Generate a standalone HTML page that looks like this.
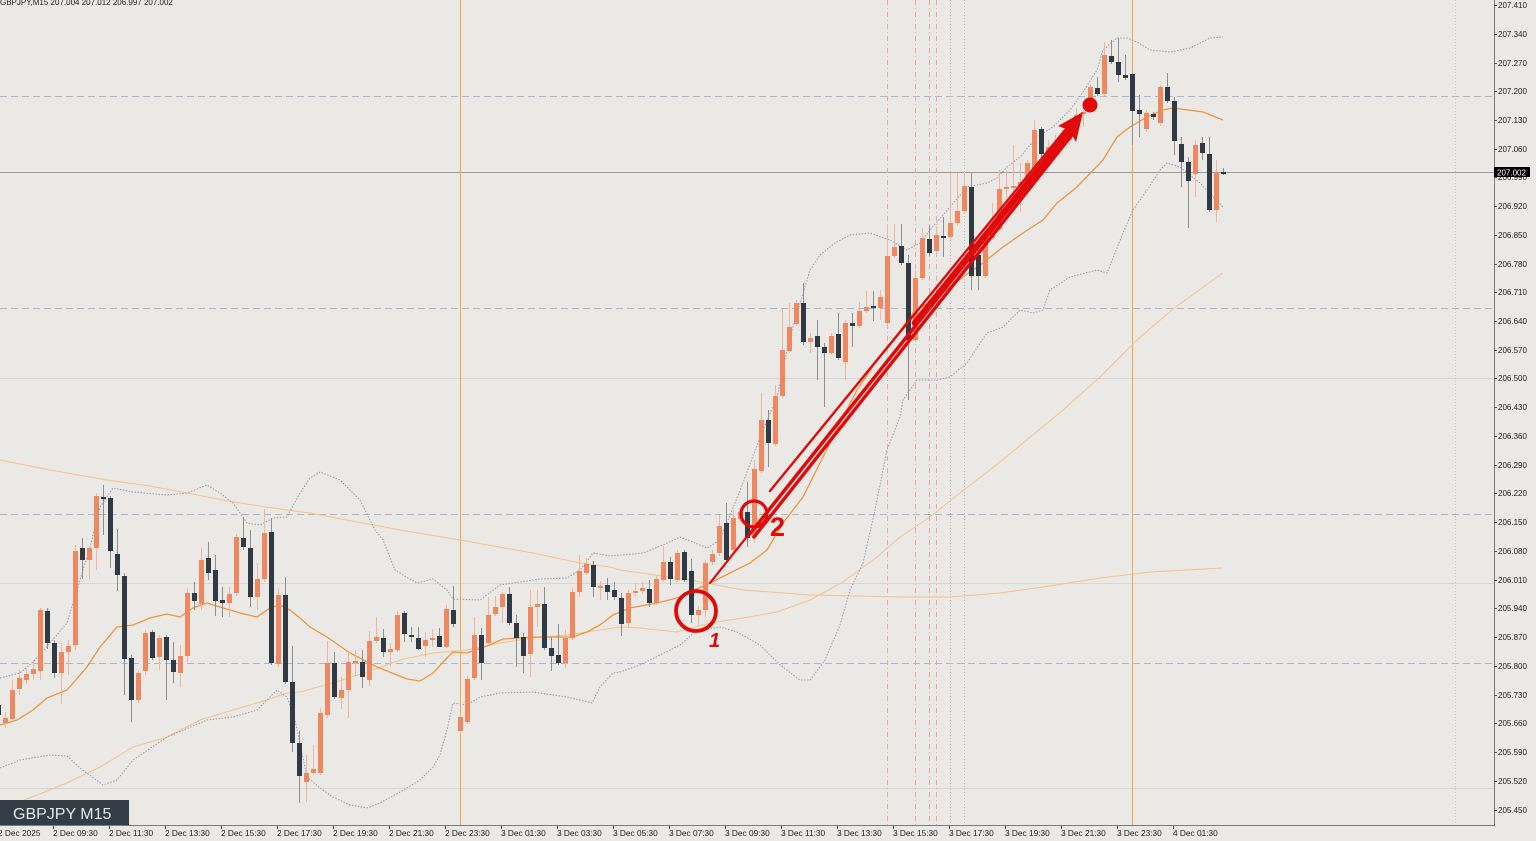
<!DOCTYPE html>
<html><head><meta charset="utf-8"><style>
html,body{margin:0;padding:0;background:#ebe9e5;}
svg{display:block;font-family:"Liberation Sans",sans-serif;}
</style></head><body>
<svg width="1536" height="841" viewBox="0 0 1536 841" xmlns="http://www.w3.org/2000/svg">
<rect x="0" y="0" width="1536" height="841" fill="#ebe9e5"/>
<g stroke-width="1" fill="none">
<path d="M0 378.5H1494M0 583.5H1494M0 788.5H1494" stroke="#d8d6d2"/>
<path d="M0 172.5H1494" stroke="#9c9c9c"/>
<path d="M0 96.5H1494M0 308.5H1494M0 514.5H1494M0 663.5H1494" stroke="#a9b6cb" stroke-dasharray="7,4"/>
<path d="M460.5 0V825M1132.5 0V825" stroke="#f5a64c"/>
<path d="M887.5 0V825M915.5 0V825M929.5 0V825M936.5 0V825" stroke="#eea69e" stroke-dasharray="5,3,1,3"/>
<path d="M950.5 0V825M964.5 0V825" stroke="#bdbdbd" stroke-dasharray="1,2"/>
<path d="M1455.5 0V825" stroke="#c4c4c4" stroke-dasharray="1,2"/>
</g>
<g fill="none">
<polyline stroke="#f6c28a" stroke-width="1" points="0,460 50,470 107,480 150,486 187,493 233,502 287,510 310,513 400,530 460,540 533,553 580,563 610,567 620,570 690,580 743,590 810,595 900,597 950,597 1000,593 1050,586 1100,578 1150,572 1222,568"/>
<polyline stroke="#f6c28a" stroke-width="1" points="0,808 27,799 67,783 100,767 133,747 167,737 200,720 233,710 267,700 287,693 300,692 333,683 367,672 400,660 433,653 467,650 500,643 533,638 567,635 600,630 620,627 640,628 677,632 710,623 743,618 777,612 810,600 843,582 877,557 900,537 930,517 960,493 1000,462 1063,410 1100,377 1137,340 1173,309 1213,280 1223,273"/>
<polyline stroke="#f0943e" stroke-width="1.3" points="0,725 17,720 33,710 47,698 67,690 87,667 100,647 117,627 133,625 150,618 167,614 180,617 193,608 207,603 220,607 240,613 257,617 270,608 280,605 290,610 300,618 310,627 327,637 350,653 377,667 397,675 407,679 420,681 433,673 447,658 453,652 467,653 487,646 503,639 533,637 560,637 573,637 587,632 600,625 613,615 630,608 657,603 677,598 710,583 750,563 767,550 783,523 803,497 823,457 840,423 857,390 877,360 897,335 913,313 937,297 963,277 983,263 1003,247 1023,233 1043,220 1057,203 1077,187 1103,160 1117,137 1130,127 1147,117 1163,110 1173,108 1203,112 1223,120"/>
</g>
<g fill="none" stroke="#9a9aab" stroke-width="1" stroke-dasharray="1.5,1.5">
<polyline points="0,678 20,673 33,662 50,643 67,623 80,580 90,547 100,507 113,488 133,492 167,495 187,493 207,485 220,493 233,503 247,523 260,525 273,518 287,517 300,493 310,478 320,472 340,480 360,500 375,530 383,540 395,570 403,575 417,583 433,579 447,590 453,599 480,600 500,585 540,579 567,578 580,570 593,553 610,556 643,553 663,545 680,537 693,542 707,548 720,540 743,483 760,437 777,397 790,337 810,270 820,255 835,243 850,235 870,233 890,240 907,250 920,243 930,230 950,207 967,187 987,183 997,178 1007,167 1020,157 1037,137 1053,127 1070,110 1083,92 1097,70 1103,50 1117,38 1127,38 1137,42 1150,50 1170,52 1190,48 1210,38 1223,37"/>
<polyline points="0,768 20,760 50,755 67,756 80,768 103,785 117,780 133,760 167,737 207,720 233,717 257,710 277,690 287,697 295,720 307,777 320,788 333,797 350,805 367,808 380,803 400,792 420,780 433,767 440,755 447,730 453,703 467,705 480,697 500,693 533,692 567,697 592,703 600,687 613,673 620,672 640,665 660,655 680,645 695,632 703,630 720,627 737,632 760,645 780,665 800,680 810,680 825,660 840,625 850,590 863,563 875,510 887,450 900,417 903,400 917,380 937,380 950,377 967,363 987,333 1003,327 1020,310 1033,313 1043,310 1050,290 1070,277 1097,270 1107,273 1123,233 1133,210 1147,190 1160,170 1167,163 1180,167 1200,183 1223,207"/>
</g>
<path fill="none" stroke="#f2b49a" stroke-width="1" d="M5.5 712V728M12.5 680V722M19.5 670V695M26.5 668V684M33.5 660V680M40.5 608V680M61.5 643V704M68.5 640V675M75.5 545V650M89.5 547V579M96.5 493V570M138.5 670V703M145.5 630V675M159.5 635V670M180.5 645V687M187.5 588V662M201.5 548V610M229.5 587V617M236.5 534V596M257.5 563V610M264.5 509V582M278.5 588V667M306.5 755V802M313.5 745V775M320.5 708V775M327.5 641V718M341.5 677V709M348.5 652V718M355.5 650V676M369.5 631V686M376.5 617V643M390.5 643V666M397.5 611V652M425.5 632V657M432.5 629V647M446.5 605V648M460.5 714V733M467.5 676V724M474.5 617V680M488.5 597V645M495.5 596V616M502.5 592V623M530.5 590V677M537.5 590V627M565.5 630V668M572.5 588V640M579.5 555V597M586.5 558V575M600.5 581V600M628.5 590V628M635.5 583V597M642.5 582V594M656.5 576V605M663.5 546V582M677.5 550V582M698.5 606V625M705.5 560V617M712.5 550V565M719.5 515V556M733.5 510V552M740.5 507V522M754.5 460V543M761.5 393V473M775.5 385V446M782.5 309V398M789.5 303V353M796.5 300V326M810.5 333V353M831.5 333V355M845.5 320V380M859.5 302V328M866.5 291V313M880.5 290V320M887.5 224V325M894.5 224V258M915.5 270V342M922.5 228V280M936.5 226V253M950.5 173V240M957.5 173V226M964.5 172V213M985.5 233V278M992.5 203V240M999.5 170V231M1006.5 170V203M1013.5 145V200M1020.5 163V212M1027.5 160V185M1034.5 120V172M1048.5 140V160M1055.5 135V152M1062.5 130V150M1069.5 120V145M1076.5 108V130M1083.5 110V127M1090.5 85V100M1104.5 42V96M1146.5 110V132M1160.5 85V126M1195.5 140V197M1216.5 160V222"/>
<path fill="none" stroke="#8e8e8e" stroke-width="1" d="M-1.5 700V716M47.5 608V649M54.5 640V678M82.5 538V579M103.5 485V535M110.5 496V568M117.5 529V591M124.5 573V695M131.5 655V722M152.5 630V660M166.5 635V700M173.5 642V683M194.5 582V610M208.5 542V580M215.5 555V616M222.5 587V617M243.5 517V550M250.5 530V607M271.5 518V665M285.5 577V684M292.5 646V752M299.5 731V803M334.5 652V699M362.5 650V688M383.5 629V657M404.5 611V642M411.5 627V642M418.5 627V650M439.5 628V647M453.5 586V627M481.5 628V680M509.5 587V625M516.5 615V667M523.5 633V673M544.5 587V650M551.5 637V671M558.5 624V665M593.5 561V597M607.5 578V600M614.5 582V600M621.5 593V636M649.5 580V607M670.5 557V585M684.5 550V582M691.5 559V623M726.5 503V561M747.5 482V547M768.5 410V467M803.5 283V345M817.5 320V380M824.5 343V407M838.5 313V360M852.5 313V347M873.5 291V321M901.5 224V265M908.5 255V400M929.5 225V256M943.5 217V257M971.5 173V290M978.5 250V290M1041.5 127V160M1097.5 77V96M1111.5 40V64M1118.5 38V82M1125.5 55V80M1132.5 73V145M1139.5 95V137M1153.5 112V120M1167.5 73V103M1174.5 97V155M1181.5 137V187M1188.5 157V228M1202.5 137V160M1209.5 137V212M1223.5 168V175"/>
<path fill="#ef8760" d="M3 718h5V723h-5ZM10 690h5V719h-5ZM17 678h5V689h-5ZM24 674h5V680h-5ZM31 669h5V674h-5ZM38 610h5V671h-5ZM59 652h5V673h-5ZM66 646h5V652h-5ZM73 551h5V645h-5ZM87 548h5V560h-5ZM94 496h5V548h-5ZM136 673h5V700h-5ZM143 633h5V671h-5ZM157 638h5V657h-5ZM178 656h5V673h-5ZM185 593h5V656h-5ZM199 560h5V604h-5ZM227 594h5V603h-5ZM234 537h5V593h-5ZM255 579h5V597h-5ZM262 533h5V579h-5ZM276 595h5V664h-5ZM304 773h5V782h-5ZM311 769h5V773h-5ZM318 713h5V773h-5ZM325 663h5V715h-5ZM339 690h5V698h-5ZM346 662h5V690h-5ZM353 661h5V663h-5ZM367 641h5V680h-5ZM374 637h5V641h-5ZM388 649h5V652h-5ZM395 615h5V650h-5ZM423 640h5V646h-5ZM430 638h5V640h-5ZM444 609h5V647h-5ZM458 717h5V731h-5ZM465 679h5V722h-5ZM472 635h5V678h-5ZM486 615h5V643h-5ZM493 607h5V614h-5ZM500 594h5V607h-5ZM528 607h5V654h-5ZM535 604h5V607h-5ZM563 638h5V663h-5ZM570 592h5V638h-5ZM577 571h5V592h-5ZM584 564h5V573h-5ZM598 586h5V588h-5ZM626 593h5V623h-5ZM633 591h5V593h-5ZM640 588h5V591h-5ZM654 579h5V603h-5ZM661 562h5V580h-5ZM675 553h5V580h-5ZM696 610h5V615h-5ZM703 563h5V610h-5ZM710 554h5V562h-5ZM717 526h5V553h-5ZM731 518h5V550h-5ZM738 512h5V519h-5ZM752 469h5V537h-5ZM759 420h5V471h-5ZM773 396h5V444h-5ZM780 350h5V396h-5ZM787 327h5V351h-5ZM794 303h5V324h-5ZM808 338h5V342h-5ZM829 336h5V353h-5ZM843 323h5V362h-5ZM857 311h5V326h-5ZM864 307h5V311h-5ZM878 297h5V308h-5ZM885 256h5V323h-5ZM892 247h5V256h-5ZM913 278h5V340h-5ZM920 238h5V278h-5ZM934 235h5V251h-5ZM948 223h5V237h-5ZM955 211h5V223h-5ZM962 186h5V211h-5ZM983 238h5V276h-5ZM990 229h5V238h-5ZM997 189h5V229h-5ZM1004 187h5V189h-5ZM1011 186h5V188h-5ZM1018 182h5V187h-5ZM1025 163h5V182h-5ZM1032 130h5V170h-5ZM1046 147h5V153h-5ZM1053 143h5V150h-5ZM1060 137h5V147h-5ZM1067 127h5V140h-5ZM1074 115h5V120h-5ZM1081 112h5V114h-5ZM1088 87h5V98h-5ZM1102 55h5V94h-5ZM1144 113h5V129h-5ZM1158 87h5V123h-5ZM1193 145h5V174h-5ZM1214 172h5V210h-5Z"/>
<path fill="#2f3a44" d="M-4 705h5V715h-5ZM45 611h5V643h-5ZM52 643h5V673h-5ZM80 548h5V560h-5ZM101 497h5V499h-5ZM108 498h5V551h-5ZM115 554h5V575h-5ZM122 576h5V659h-5ZM129 658h5V700h-5ZM150 632h5V658h-5ZM164 637h5V660h-5ZM171 660h5V672h-5ZM192 593h5V601h-5ZM206 558h5V573h-5ZM213 570h5V601h-5ZM220 600h5V603h-5ZM241 538h5V547h-5ZM248 548h5V597h-5ZM269 532h5V663h-5ZM283 595h5V682h-5ZM290 682h5V743h-5ZM297 743h5V776h-5ZM332 663h5V697h-5ZM360 662h5V677h-5ZM381 638h5V652h-5ZM402 613h5V634h-5ZM409 635h5V637h-5ZM416 638h5V649h-5ZM437 636h5V647h-5ZM451 610h5V624h-5ZM479 635h5V663h-5ZM507 594h5V623h-5ZM514 623h5V638h-5ZM521 637h5V656h-5ZM542 604h5V648h-5ZM549 648h5V656h-5ZM556 655h5V663h-5ZM591 565h5V587h-5ZM605 585h5V592h-5ZM612 590h5V597h-5ZM619 598h5V624h-5ZM647 589h5V603h-5ZM668 562h5V579h-5ZM682 552h5V580h-5ZM689 571h5V615h-5ZM724 523h5V560h-5ZM745 512h5V538h-5ZM766 420h5V443h-5ZM801 303h5V342h-5ZM815 336h5V347h-5ZM822 347h5V353h-5ZM836 334h5V358h-5ZM850 323h5V326h-5ZM871 306h5V308h-5ZM899 246h5V263h-5ZM906 263h5V340h-5ZM927 239h5V253h-5ZM941 236h5V238h-5ZM969 187h5V276h-5ZM976 255h5V276h-5ZM1039 129h5V154h-5ZM1095 88h5V94h-5ZM1109 56h5V62h-5ZM1116 62h5V75h-5ZM1123 75h5V78h-5ZM1130 74h5V111h-5ZM1137 110h5V114h-5ZM1151 114h5V117h-5ZM1165 87h5V101h-5ZM1172 101h5V141h-5ZM1179 144h5V162h-5ZM1186 162h5V181h-5ZM1200 143h5V153h-5ZM1207 154h5V210h-5ZM1221 172h5V174h-5Z"/>
<g stroke="#e00a0a" fill="none" stroke-linecap="round">
<line x1="710" y1="583" x2="1073" y2="127" stroke-width="2.2"/>
<line x1="770" y1="491" x2="1070" y2="124" stroke-width="2.4"/>
<line x1="749" y1="535" x2="1073" y2="128" stroke-width="3.4"/>
<line x1="754" y1="537" x2="1075" y2="131" stroke-width="3.4"/>
<line x1="915" y1="323" x2="1072" y2="128" stroke-width="6.5"/>
<circle cx="696" cy="611" r="20" stroke-width="3.8"/>
<circle cx="754" cy="514" r="13" stroke-width="3.2"/>
</g>
<polygon points="1083,112 1058,126 1069,130 1076,142" fill="#e00a0a"/>
<circle cx="1090" cy="105" r="7.5" fill="#e00a0a"/>
<text x="770" y="536" font-size="27" font-weight="bold" fill="#e00a0a">2</text>
<text x="709" y="647" font-size="20" font-weight="bold" font-style="italic" fill="#e00a0a">1</text>
<path d="M1494.5 0V825.5H0" stroke="#7a7a7a" stroke-width="1" fill="none"/>
<g stroke="#555" stroke-width="1">
<path d="M1494 5.5h3M1494 34.5h3M1494 63.5h3M1494 91.5h3M1494 120.5h3M1494 149.5h3M1494 177.5h3M1494 206.5h3M1494 235.5h3M1494 264.5h3M1494 292.5h3M1494 321.5h3M1494 350.5h3M1494 378.5h3M1494 407.5h3M1494 436.5h3M1494 465.5h3M1494 493.5h3M1494 522.5h3M1494 551.5h3M1494 580.5h3M1494 608.5h3M1494 637.5h3M1494 666.5h3M1494 695.5h3M1494 723.5h3M1494 752.5h3M1494 781.5h3M1494 810.5h3"/>
<path d="M53.5 826v3M109.5 826v3M165.5 826v3M221.5 826v3M277.5 826v3M333.5 826v3M389.5 826v3M445.5 826v3M501.5 826v3M557.5 826v3M613.5 826v3M669.5 826v3M725.5 826v3M781.5 826v3M837.5 826v3M893.5 826v3M949.5 826v3M1005.5 826v3M1061.5 826v3M1117.5 826v3M1173.5 826v3"/>
</g>
<g font-size="8" fill="#222">
<text x="1498" y="8">207.410</text>
<text x="1498" y="37">207.340</text>
<text x="1498" y="66">207.270</text>
<text x="1498" y="94">207.200</text>
<text x="1498" y="123">207.130</text>
<text x="1498" y="152">207.060</text>
<text x="1498" y="180">206.990</text>
<text x="1498" y="209">206.920</text>
<text x="1498" y="238">206.850</text>
<text x="1498" y="267">206.780</text>
<text x="1498" y="295">206.710</text>
<text x="1498" y="324">206.640</text>
<text x="1498" y="353">206.570</text>
<text x="1498" y="381">206.500</text>
<text x="1498" y="410">206.430</text>
<text x="1498" y="439">206.360</text>
<text x="1498" y="468">206.290</text>
<text x="1498" y="496">206.220</text>
<text x="1498" y="525">206.150</text>
<text x="1498" y="554">206.080</text>
<text x="1498" y="583">206.010</text>
<text x="1498" y="611">205.940</text>
<text x="1498" y="640">205.870</text>
<text x="1498" y="669">205.800</text>
<text x="1498" y="698">205.730</text>
<text x="1498" y="726">205.660</text>
<text x="1498" y="755">205.590</text>
<text x="1498" y="784">205.520</text>
<text x="1498" y="813">205.450</text>
</g>
<rect x="1494" y="167" width="36" height="10" fill="#000"/>
<text x="1497" y="175.5" font-size="8" fill="#fff">207.002</text>
<g font-size="8.3" fill="#222">
<text x="-2" y="836">2 Dec 2025</text>
<text x="53" y="836">2 Dec 09:30</text>
<text x="109" y="836">2 Dec 11:30</text>
<text x="165" y="836">2 Dec 13:30</text>
<text x="221" y="836">2 Dec 15:30</text>
<text x="277" y="836">2 Dec 17:30</text>
<text x="333" y="836">2 Dec 19:30</text>
<text x="389" y="836">2 Dec 21:30</text>
<text x="445" y="836">2 Dec 23:30</text>
<text x="501" y="836">3 Dec 01:30</text>
<text x="557" y="836">3 Dec 03:30</text>
<text x="613" y="836">3 Dec 05:30</text>
<text x="669" y="836">3 Dec 07:30</text>
<text x="725" y="836">3 Dec 09:30</text>
<text x="781" y="836">3 Dec 11:30</text>
<text x="837" y="836">3 Dec 13:30</text>
<text x="893" y="836">3 Dec 15:30</text>
<text x="949" y="836">3 Dec 17:30</text>
<text x="1005" y="836">3 Dec 19:30</text>
<text x="1061" y="836">3 Dec 21:30</text>
<text x="1117" y="836">3 Dec 23:30</text>
<text x="1173" y="836">4 Dec 01:30</text>
</g>
<text x="0" y="5" font-size="8" fill="#222">GBPJPY,M15  207.004 207.012 206.997 207.002</text>
<rect x="0" y="800" width="129" height="25" fill="#333d47"/>
<text x="13" y="819" font-size="16" fill="#e6e6e6">GBPJPY M15</text>
</svg>
</body></html>
